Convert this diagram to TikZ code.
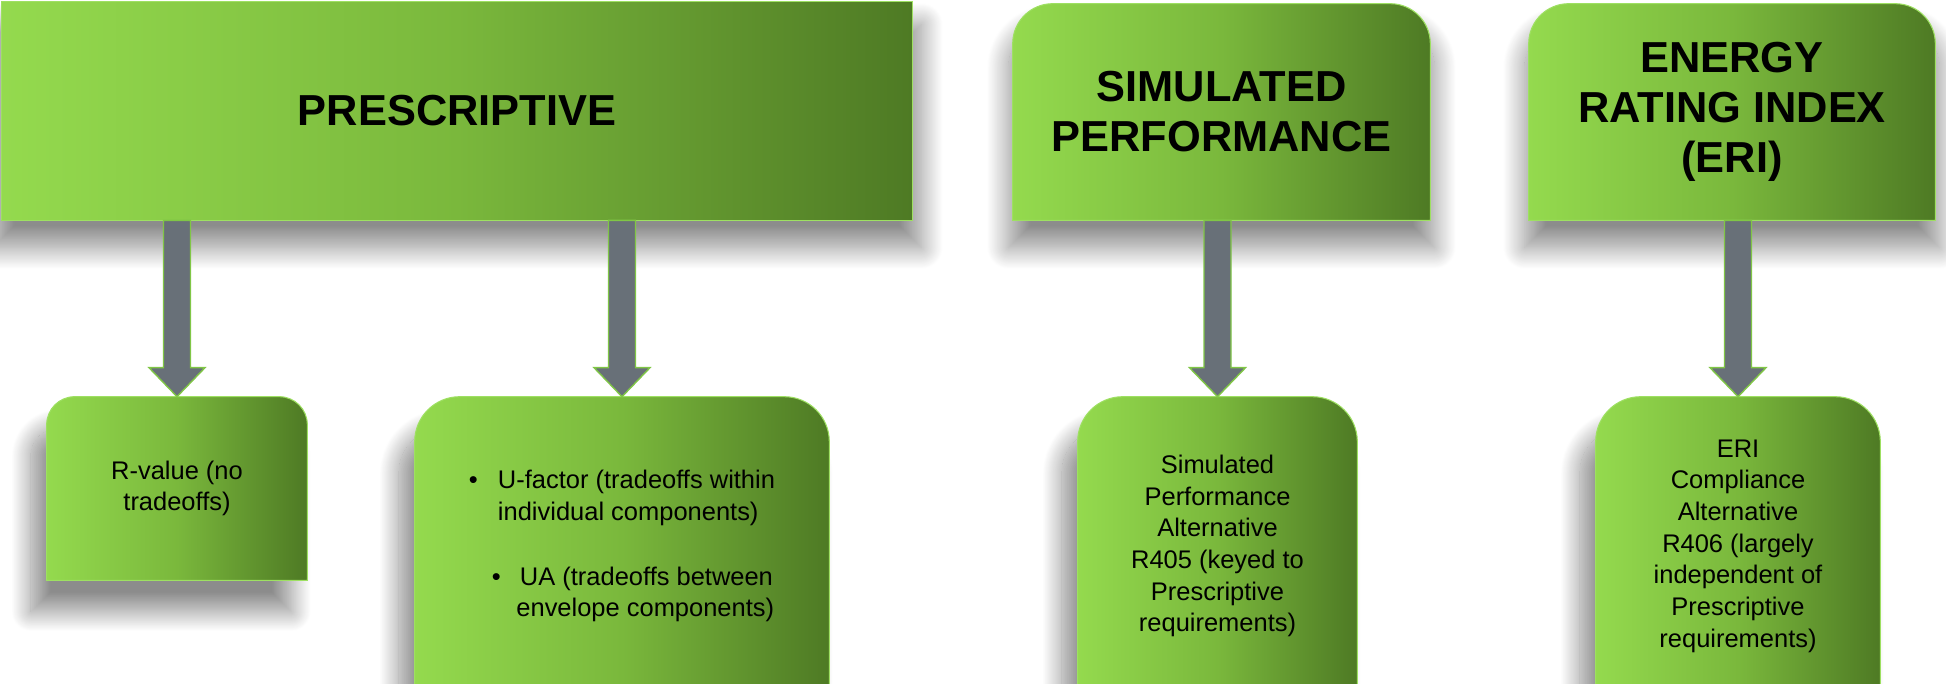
\documentclass[tikz,border=0pt]{standalone}
\usepackage{fontspec}
\setmainfont{Liberation Sans}
\usetikzlibrary{calc}
\usetikzlibrary{backgrounds}
\usetikzlibrary{shadows.blur}

\definecolor{leafLight}{RGB}{148,218,78}
\definecolor{leafMid}{RGB}{122,184,60}
\definecolor{leafDark}{RGB}{78,122,36}
\definecolor{leafEdge}{RGB}{158,224,98}
\definecolor{arrowGrey}{RGB}{104,112,120}
\definecolor{arrowEdge}{RGB}{128,198,70}

\tikzset{
    headtext/.style = {font=\fontsize{24.7}{28.5}\selectfont\bfseries, align=center, inner sep=0pt},
    bodytext/.style = {font=\fontsize{14.5}{18}\selectfont, align=center, inner sep=0pt},
    leaf/.style     = {left color=leafLight, right color=leafDark, middle color=leafMid, draw=leafEdge, line width=0.6pt},
    topshadow/.style = {blur shadow={shadow xshift=0pt, shadow yshift=-14pt, shadow blur radius=12pt, shadow blur steps=30, shadow opacity=45, shadow scale=1.02}},
    lowshadow/.style = {blur shadow={shadow xshift=-9pt, shadow yshift=-18pt, shadow blur radius=11pt, shadow blur steps=30, shadow opacity=45}},
    flow/.style     = {fill=arrowGrey, draw=arrowEdge, line width=0.8pt, line join=miter}
}

\begin{document}
\begin{tikzpicture}[x=0.02cm, y=-0.02cm]

    \useasboundingbox (0,0) rectangle (1946,683);

    % compliance paths
    \node (presc) at (457,111)    [headtext, minimum width=18.2cm, minimum height=4.36cm] {PRESCRIPTIVE};
    \node (sim)   at (1221.5,112) [headtext, minimum width=8.34cm, minimum height=4.32cm] {SIMULATED\\PERFORMANCE};
    \node (eri)   at (1732,112)   [headtext, minimum width=8.12cm, minimum height=4.32cm] {ENERGY\\RATING INDEX\\(ERI)};

    % options under each path
    \node (rv) at (177,488.5) [bodytext, minimum width=5.2cm, minimum height=3.66cm] {R-value (no\\tradeoffs)};
    \node (uf) at (622,546)   [bodytext, align=left, minimum width=8.28cm, minimum height=5.96cm]
        {\makebox[16.5pt][l]{\textbullet}U-factor (tradeoffs within\\
         \hspace*{16.5pt}individual components)\\[19pt]
         \hspace*{13pt}\makebox[16pt][l]{\textbullet}UA (tradeoffs between\\
         \hspace*{27pt}envelope components)};
    \node (sp) at (1217.5,546) [bodytext, minimum width=5.58cm, minimum height=5.96cm]
        {Simulated\\Performance\\Alternative\\R405 (keyed to\\Prescriptive\\requirements)};
    \node (eriAlt) at (1738,546) [bodytext, minimum width=5.68cm, minimum height=5.96cm]
        {ERI\\Compliance\\Alternative\\R406 (largely\\independent of\\Prescriptive\\requirements)};

    \begin{scope}[on background layer]
        \path[leaf, topshadow] (presc.south west) rectangle (presc.north east);
        \foreach \n/\r/\s in {sim/0.8cm/topshadow, eri/0.8cm/topshadow, rv/0.56cm/lowshadow,
                              uf/0.9cm/lowshadow, sp/0.9cm/lowshadow, eriAlt/0.9cm/lowshadow}
            \path[leaf, \s] (\n.south west) [rounded corners=\r] -- (\n.north west) -- (\n.north east)
                [sharp corners] -- (\n.south east) -- cycle;
    \end{scope}

    % block arrows
    \foreach \from/\to in {presc/rv, presc/uf, sim/sp, eri/eriAlt}{
        \coordinate (root) at (\from.south -| \to.north);
        \draw[flow] ($(root)+(-13.5,0)$) -- ($(\to.north)+(-13.5,-29)$) -- ($(\to.north)+(-28,-29)$)
            -- (\to.north) -- ($(\to.north)+(28,-29)$) -- ($(\to.north)+(13.5,-29)$)
            -- ($(root)+(13.5,0)$) -- cycle;
    }

\end{tikzpicture}
\end{document}
